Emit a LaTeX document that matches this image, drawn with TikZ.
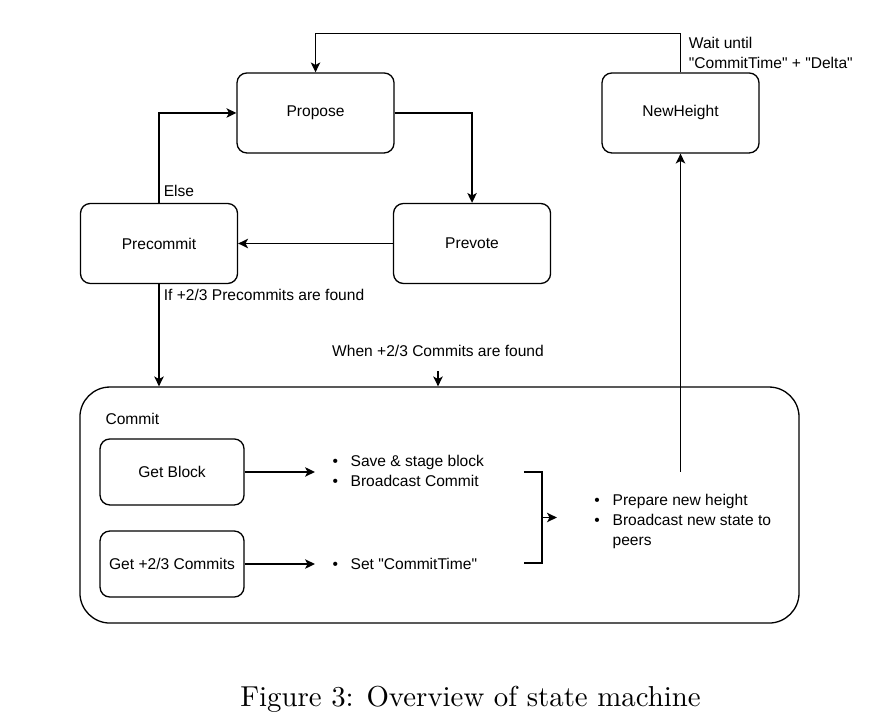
\documentclass[tikz,border=0pt]{standalone}
\usepackage{fontspec}
\newfontfamily\drawfont{Liberation Sans}
\usetikzlibrary{arrows.meta}
\tikzset{
  edgeline/.style={line width=0.016cm},
  arr/.style={edgeline, -{Stealth[length=0.12cm,width=0.115cm,inset=0.03cm]}},
  state/.style={draw, edgeline, rounded corners=0.12cm, minimum width=1.914cm, minimum height=0.975cm, inner sep=0pt},
  substate/.style={state, minimum width=1.755cm, minimum height=0.805cm},
  note/.style={inner sep=0pt},
  bullets/.style={inner ysep=0pt, anchor=west},
}
\begin{document}
\begin{tikzpicture}[font=\drawfont\fontsize{5.4}{6.9}\selectfont]
                        \useasboundingbox (0,0) rectangle (10.678,8.801);
                        
                        % Drawing states
                        \node [state] (propose) at (3.846,7.424) {Propose};%
                        \node [state] (precommit) at (1.938,5.833) {Precommit};%
                        \node [state] (prevote) at (5.754,5.833) {Prevote};%
                        \node [state] (newheight) at (8.295,7.424) {NewHeight};%
                        
                        % Drawing commit box
                        \node [draw, edgeline, rounded corners=0.366cm, minimum width=8.765cm, minimum height=2.877cm] (commitbox) at (5.357,2.645) {};%
                        \node [note, anchor=west] (commitname) at (1.280,3.692) {Commit};%
                        \node [substate] (getblock) at (2.097,3.048) {Get Block};%
                        \node [substate] (getcommits) at (2.097,1.926) {Get +2/3 Commits};%
                        
                        % Marking bullet lists
                        \node [bullets, inner xsep=0.207cm] (savelist) at (3.839,3.043) {\begin{tabular}{@{}l@{\hspace{0.155cm}}l@{}}\textbullet & Save \& stage block\\ \textbullet & Broadcast Commit\end{tabular}};%
                        \node [bullets, inner xsep=0.207cm] (timelist) at (3.839,1.906) {\begin{tabular}{@{}l@{\hspace{0.155cm}}l@{}}\textbullet & Set "CommitTime"\end{tabular}};%
                        \node [bullets, inner xsep=0.451cm] (heightlist) at (6.788,2.443) {\begin{tabular}{@{}l@{\hspace{0.155cm}}l@{}}\textbullet & Prepare new height\\ \textbullet & Broadcast new state to\\ & peers\end{tabular}};%
                        
                        % Marking edge labels
                        \node [note, anchor=west] (elselabel) at (1.990,6.471) {Else};%
                        \node [note, anchor=west] (iflabel) at (1.990,5.200) {If +2/3 Precommits are found};%
                        \node [note, inner ysep=0.17cm] (whenlabel) at (5.339,4.521) {When +2/3 Commits are found};%
                        \node [note, anchor=north west, align=left] (waitlabel) at (8.390,8.356) {Wait until\\"CommitTime" + "Delta"};%
                        
                        % Drawing round transitions
                        \draw [arr] (propose.east) -| (prevote.north);%
                        \draw [arr] (prevote.west) -- (precommit.east);%
                        \draw [arr] (precommit.north) |- (propose.west);%
                        \draw [arr] (precommit.south) -- (precommit.south |- commitbox.north);%
                        \draw [arr] (whenlabel.south) -- (whenlabel.south |- commitbox.north);%
                        \draw [arr] (newheight.north) -- ++(0,0.475) -| (propose.north);%
                        
                        % Drawing commit steps
                        \draw [arr] (getblock.east) -- (getblock.east -| savelist.west);%
                        \draw [arr] (getcommits.east) -- (getcommits.east -| timelist.west);%
                        
                        % Drawing bracket
                        \coordinate (brtop) at (6.386,3.048);%
                        \coordinate (brbot) at (6.386,1.938);%
                        \coordinate (brmid) at (6.607,2.493);%
                        \draw [edgeline] (brtop) -- ++(0.221,0) |- (brbot);%
                        \draw [arr] (brmid) -- (brmid -| heightlist.west);%
                        
                        % Drawing line to NewHeight
                        \coordinate (nhfoot) at (8.295,3.048);%
                        \draw [arr] (nhfoot) -- (newheight.south);%
                        
                        % Caption
                        \node [font=\normalfont\normalsize, anchor=base] (caption) at (5.735,0.195) {Figure 3: Overview of state machine};%
\end{tikzpicture}
\end{document}
